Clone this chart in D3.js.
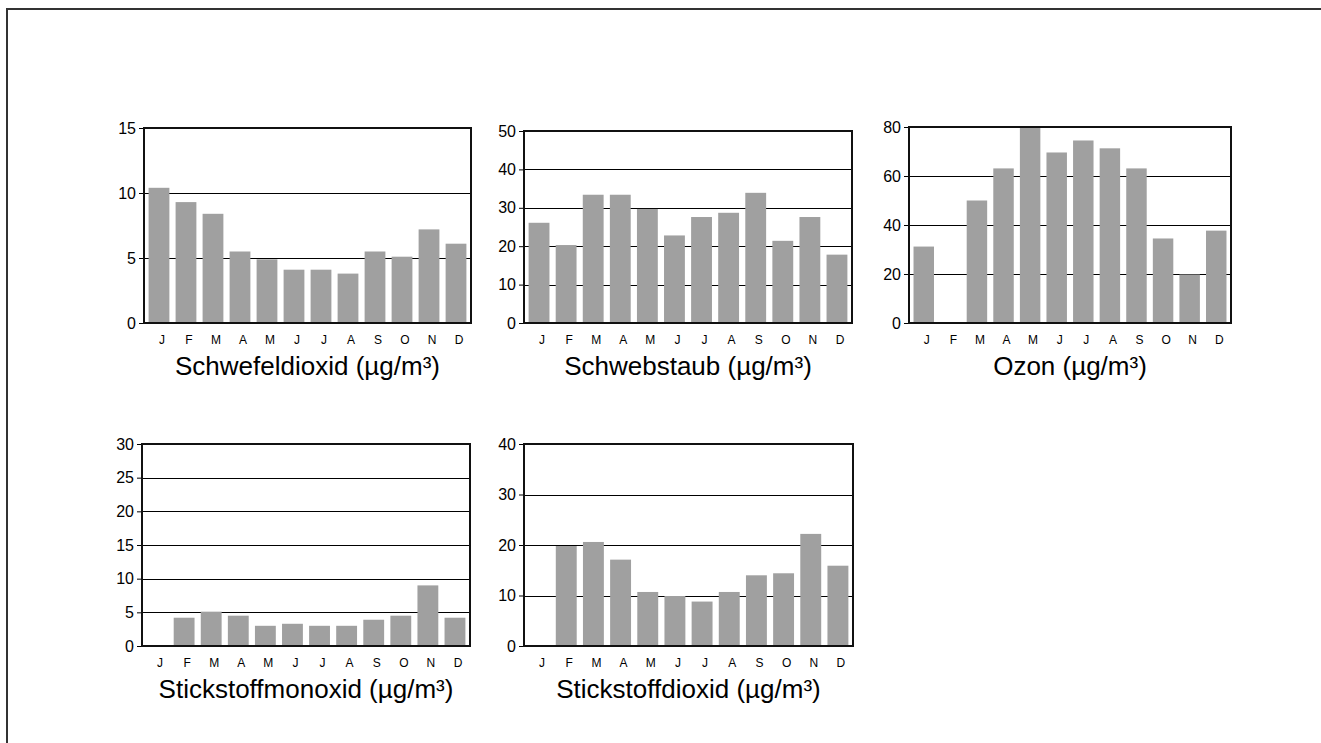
<!DOCTYPE html>
<html>
<head>
<meta charset="utf-8">
<script src="https://cdn.jsdelivr.net/npm/d3@7"></script>
<style>
  body { margin: 0; background: #fff; }
  svg { display: block; }
  text { font-family: "Liberation Sans", Arial, sans-serif; fill: #000; }
</style>
</head>
<body>
<svg id="chart" width="1321" height="743"></svg>
<script>
// Month labels
const months = ['J', 'F', 'M', 'A', 'M', 'J', 'J', 'A', 'S', 'O', 'N', 'D'];

// Monthly means (null = no value)
const schwefeldioxid = [10.4, 9.3, 8.4, 5.5, 4.9, 4.1, 4.1, 3.8, 5.5, 5.1, 7.2, 6.1];
const schwebstaub = [26.1, 20.3, 33.4, 33.4, 29.7, 22.8, 27.6, 28.7, 33.9, 21.4, 27.6, 17.8];
const ozon = [31.2, null, 50.0, 63.1, 80.0, 69.6, 74.5, 71.3, 63.1, 34.5, 19.8, 37.7];
const stickstoffmonoxid = [null, 4.2, 5.1, 4.5, 3.0, 3.3, 3.0, 3.0, 3.9, 4.5, 9.0, 4.2];
const stickstoffdioxid = [null, 19.8, 20.6, 17.1, 10.7, 9.9, 8.8, 10.7, 14.0, 14.4, 22.2, 15.9];

// Y tick values per chart
const ticksSO2 = [0, 5, 10, 15];
const ticksStaub = [0, 10, 20, 30, 40, 50];
const ticksOzon = [0, 20, 40, 60, 80];
const ticksNO = [0, 5, 10, 15, 20, 25, 30];
const ticksNO2 = [0, 10, 20, 30, 40];

const titles = [
  'Schwefeldioxid (µg/m³)',
  'Schwebstaub (µg/m³)',
  'Ozon (µg/m³)',
  'Stickstoffmonoxid (µg/m³)',
  'Stickstoffdioxid (µg/m³)'
];

const svg = d3.select('#chart');

// outer frame (right and bottom edges fall outside the view)
svg.append('rect')
  .attr('x', 7).attr('y', 9)
  .attr('width', 1500).attr('height', 900)
  .attr('fill', 'none')
  .attr('stroke', '#333')
  .attr('stroke-width', 2);

// panel boxes
const panels = [
  { title: titles[0], values: schwefeldioxid, ticks: ticksSO2, left: 144, top: 128, right: 471, bottom: 323 },
  { title: titles[1], values: schwebstaub, ticks: ticksStaub, left: 524, top: 131, right: 852, bottom: 323 },
  { title: titles[2], values: ozon, ticks: ticksOzon, left: 909, top: 127, right: 1231, bottom: 323 },
  { title: titles[3], values: stickstoffmonoxid, ticks: ticksNO, left: 142, top: 444, right: 470, bottom: 646 },
  { title: titles[4], values: stickstoffdioxid, ticks: ticksNO2, left: 524, top: 444, right: 853, bottom: 646 }
];

panels.forEach(p => {
  const g = svg.append('g');
  const maxTick = d3.max(p.ticks);

  const x = d3.scaleBand()
    .domain(d3.range(months.length))
    .range([p.left, p.right])
    .paddingInner(0.23)
    .paddingOuter(0.17);

  const y = d3.scaleLinear()
    .domain([0, maxTick])
    .range([p.bottom, p.top]);

  // gridlines
  g.selectAll('.grid')
    .data(p.ticks.filter(t => t > 0 && t < maxTick))
    .enter().append('line')
    .attr('x1', p.left).attr('x2', p.right)
    .attr('y1', d => Math.round(y(d)) + 0.5)
    .attr('y2', d => Math.round(y(d)) + 0.5)
    .attr('stroke', '#000')
    .attr('stroke-width', 1);

  // bars
  g.selectAll('.bar')
    .data(p.values.map((v, i) => ({ i, v })).filter(d => d.v != null))
    .enter().append('rect')
    .attr('x', d => x(d.i))
    .attr('y', d => y(d.v))
    .attr('width', x.bandwidth())
    .attr('height', d => p.bottom - y(d.v))
    .attr('fill', '#a0a0a0');

  // y axis
  const yAxis = d3.axisLeft(y)
    .tickValues(p.ticks)
    .tickSize(5)
    .tickPadding(3)
    .tickFormat(d3.format('d'));
  const ya = g.append('g')
    .attr('transform', `translate(${p.left},0)`)
    .call(yAxis);
  ya.select('.domain').remove();
  ya.selectAll('line').attr('stroke', '#000');
  ya.selectAll('text')
    .style('font-size', '16px')
    .attr('fill', '#000');

  // month labels
  g.selectAll('.month')
    .data(months)
    .enter().append('text')
    .attr('x', (d, i) => x(i) + x.bandwidth() / 2 + 3)
    .attr('y', p.bottom + 21)
    .attr('text-anchor', 'middle')
    .style('font-size', '12px')
    .text(d => d);

  // frame
  g.append('rect')
    .attr('x', p.left).attr('y', p.top)
    .attr('width', p.right - p.left)
    .attr('height', p.bottom - p.top)
    .attr('fill', 'none')
    .attr('stroke', '#111')
    .attr('stroke-width', 2);

  // title
  g.append('text')
    .attr('x', (p.left + p.right) / 2)
    .attr('y', p.bottom + 52)
    .attr('text-anchor', 'middle')
    .style('font-size', '26px')
    .text(p.title);
});
</script>
</body>
</html>
